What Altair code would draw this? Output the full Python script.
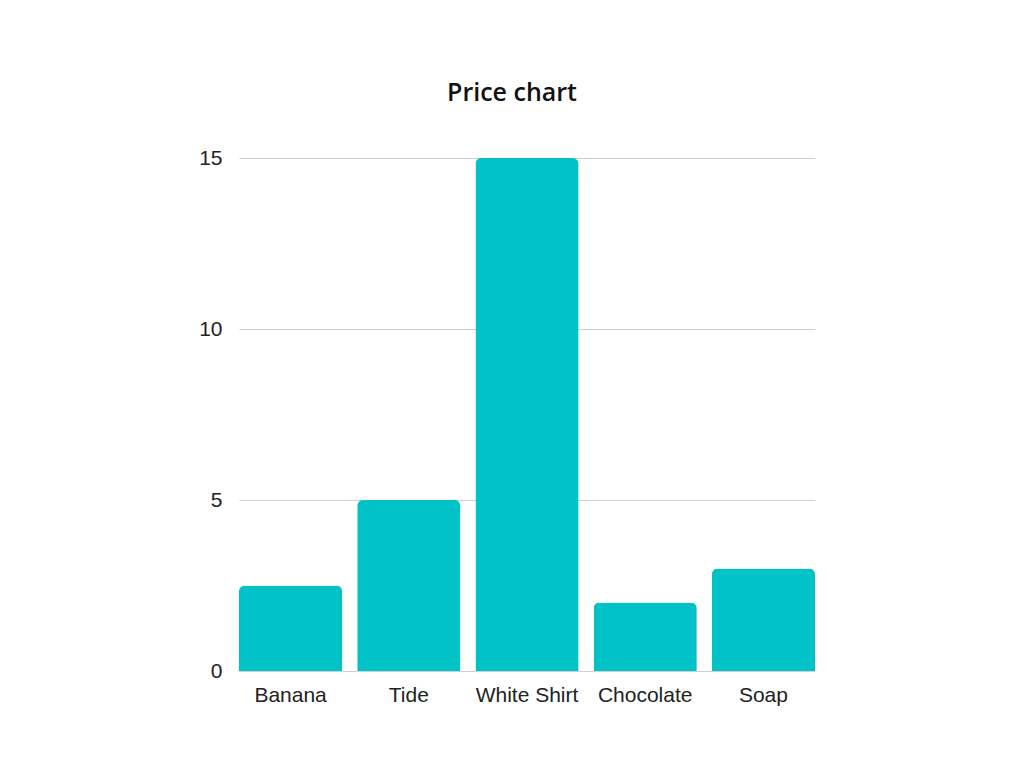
import altair as alt
import pandas as pd

items = ["Banana", "Tide", "White Shirt", "Chocolate", "Soap"]
prices = [2.5, 5, 15, 2, 3]

df = pd.DataFrame({"item": items, "price": prices})

chart = (
    alt.Chart(df)
    .mark_bar(color="#00C2C7", cornerRadiusTopLeft=6, cornerRadiusTopRight=6)
    .encode(
        x=alt.X(
            "item:N",
            sort=items,
            title=None,
            scale=alt.Scale(paddingInner=0.127, paddingOuter=0),
            axis=alt.Axis(labelAngle=0, ticks=False, domain=False, grid=False, labelPadding=13,
                          labelFont="Liberation Sans", labelFontSize=21, labelColor="#222222"),
        ),
        y=alt.Y(
            "price:Q",
            title=None,
            scale=alt.Scale(domain=[0, 15], nice=False),
            axis=alt.Axis(values=[0, 5, 10, 15], ticks=False, domain=False, labelPadding=17,
                          labelFont="Liberation Sans", labelFontSize=21, labelColor="#222222",
                          gridColor="#d0d0d0", gridWidth=1),
        ),
    )
    .properties(
        width=576,
        height=513,
        background="white",
        title=alt.TitleParams("Price chart", font="Open Sans", fontSize=25, fontWeight=600,
                              color="#111111", anchor="middle", dx=-15, offset=41),
        autosize=alt.AutoSizeParams(type="none"),
        padding={"left": 231, "top": 150, "right": 201, "bottom": 89},
    )
    .configure_view(strokeWidth=0, stroke="transparent")
)

chart.save("out.html", embed_options={"renderer": "svg", "actions": False})
